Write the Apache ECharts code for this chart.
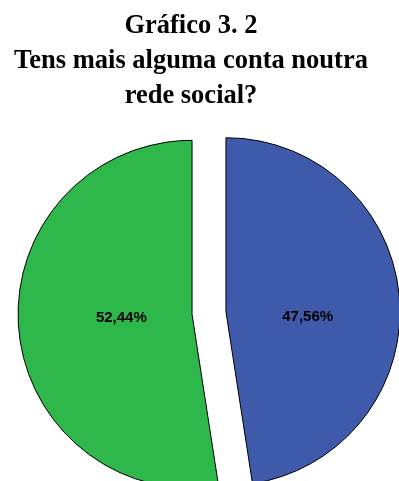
<!DOCTYPE html>
<html>
<head>
<meta charset="utf-8">
<script src="https://cdn.jsdelivr.net/npm/echarts@6/dist/echarts.min.js"></script>
<style>
  html, body { margin: 0; padding: 0; background: #fff; }
  #chart { width: 399px; height: 481px; }
</style>
</head>
<body>
<div id="chart"></div>
<script>
// Answers to "Tens mais alguma conta noutra rede social?"
const categories = ['Sim', 'Não'];
const percentages = [47.56, 52.44];
const sliceColors = ['#3F5AAB', '#2EB84B'];
const titleLines = ['Gráfico 3. 2', 'Tens mais alguma conta noutra', 'rede social?'];

// Nudges for the in-slice percentage labels
const labelShift = [[-8, 12], [19, -3]];

const fmt = v => v.toFixed(2).replace('.', ',') + '%';

const chart = echarts.init(document.getElementById('chart'), null, { renderer: 'canvas' });

chart.setOption({
  animation: false,
  backgroundColor: '#ffffff',
  title: {
    text: titleLines.join('\n'),
    left: 186,
    top: 4,
    textAlign: 'center',
    textStyle: {
      fontFamily: '"Liberation Serif", "Times New Roman", serif',
      fontWeight: 'bold',
      fontSize: 26.5,
      lineHeight: 35,
      color: '#000'
    }
  },
  series: [{
    type: 'pie',
    center: [209, 313],
    radius: [0, 174],
    startAngle: 90,
    clockwise: true,
    selectedMode: 'multiple',
    selectedOffset: 17,
    emphasis: { disabled: true },
    itemStyle: { borderColor: '#000', borderWidth: 1 },
    label: {
      show: true,
      position: 'inside',
      fontFamily: '"Liberation Sans", Arial, sans-serif',
      fontWeight: 'bold',
      fontSize: 15,
      color: '#000',
      formatter: p => fmt(p.value)
    },
    labelLayout: p => ({ dx: labelShift[p.dataIndex][0], dy: labelShift[p.dataIndex][1] }),
    labelLine: { show: false },
    data: categories.map((name, i) => ({
      name,
      value: percentages[i],
      selected: true,
      itemStyle: { color: sliceColors[i] },
      select: { itemStyle: { color: sliceColors[i], borderColor: '#000', borderWidth: 1 } }
    }))
  }]
});
</script>
</body>
</html>
